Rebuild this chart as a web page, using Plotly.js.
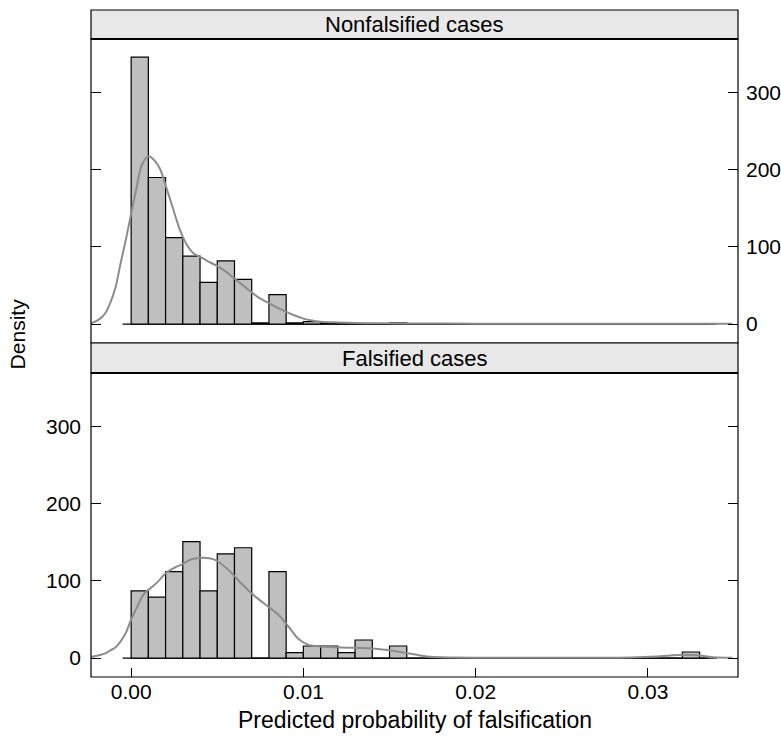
<!DOCTYPE html>
<html>
<head>
<meta charset="utf-8">
<script src="https://cdn.plot.ly/plotly-3.0.1.min.js"></script>
<style>html,body{margin:0;padding:0;background:#fff;}#chart{width:781px;height:740px;}</style>
</head>
<body>
<div id="chart"></div>
<script>
// ---- Data ----
const binWidth = 0.001;
const binStarts = [0.000,0.001,0.002,0.003,0.004,0.005,0.006,0.007,0.008,0.009,0.010,0.011,0.012,0.013,0.014,0.015,0.016,0.017,0.018,0.019,0.020,0.021,0.022,0.023,0.024,0.025,0.026,0.027,0.028,0.029,0.030,0.031,0.032,0.033];
const nonfalsifiedDensity = [346,190,112,88,54,82,58,1.5,38,1.5,3,0.8,0.7,0.7,0,1.5,0,0,0,0,0,0,0,0,0,0,0,0,0,0,0,0,0,0];
const falsifiedDensity    = [87,79,112,151,87,135,143,0,112,7,15.6,15.6,7,23.4,0,15.6,0,0,0,0,0,0,0,0,0,0,0,0,0,0,0,0,7.8,0];

const kdeNonX = [-0.00233,-0.0021,-0.0018,-0.0015,-0.0012,-0.0009,-0.0006,-0.0003,0.0000,0.0003,0.0006,0.0009,0.0011,0.0014,0.0017,0.0020,0.0024,0.0028,0.0032,0.0036,0.0040,0.0045,0.0050,0.0055,0.0060,0.0065,0.0070,0.0075,0.0080,0.0085,0.0090,0.0095,0.0100,0.0105,0.0110,0.0120,0.0130,0.0145,0.0165,0.0200,0.0250,0.0300,0.0349];
const kdeNonY = [1,3,7,14,28,48,80,110,143,175,205,216,217,211,200,180,152,124,104,92,87,81,75,68,59,50,41,33,27,21,16,11,7,4.5,3,2,1.3,1,0.7,0.5,0.4,0.3,0.3];

const kdeFalX = [-0.00233,-0.0018,-0.0015,-0.0012,-0.0009,-0.0006,-0.0003,0.0000,0.0003,0.0007,0.0012,0.0016,0.0020,0.0025,0.0030,0.0035,0.0042,0.0048,0.0053,0.0058,0.0063,0.0068,0.0073,0.0080,0.0086,0.0092,0.0097,0.0103,0.0110,0.0118,0.0126,0.0134,0.0142,0.0150,0.0158,0.0165,0.0172,0.0180,0.0200,0.0250,0.0290,0.0305,0.0312,0.0320,0.0329,0.0338,0.0349];
const kdeFalY = [1.3,4,6,10,14,22,33,50,64,82,92,100,110,117,122,128,130,128,121,111,99,88,78,66,55,39,25,17,15,14,13.4,13,12,10,7,4.5,2,1,0.5,0.5,0.8,2,3,4.3,3.5,1,0.3];

const panelTitles = ["Nonfalsified cases","Falsified cases"];
const xTickVals = [0,0.01,0.02,0.03];
const yTickVals = [0,100,200,300];
const xLabel = "Predicted probability of falsification";
const yLabel = "Density";
const baselineRange = [-0.0005, 0.0335];

// ---- Style ----
const FONT = "Liberation Sans, Arial, Helvetica, sans-serif";
const barFill = "#bfbfbf";
const kdeColor = "#8c8c8c";
const stripFill = "#e8e8e8";
const xRange = [-0.00233, 0.03523];
const yRange = [-24.6, 369.6];
const domBottom = [0, 0.45577];
const domTop = [0.50075, 0.95652];

const centers = binStarts.map(b => b + binWidth/2);

const traces = [
  {type:'bar', x:centers, y:falsifiedDensity, width:binWidth, xaxis:'x', yaxis:'y',
   marker:{color:barFill, line:{color:'#000', width:1.2}}, hoverinfo:'x+y', showlegend:false},
  {type:'scatter', mode:'lines', x:kdeFalX, y:kdeFalY, xaxis:'x', yaxis:'y',
   line:{color:kdeColor, width:2, shape:'spline', smoothing:0.8}, showlegend:false},
  {type:'bar', x:centers, y:nonfalsifiedDensity, width:binWidth, xaxis:'x2', yaxis:'y2',
   marker:{color:barFill, line:{color:'#000', width:1.2}}, hoverinfo:'x+y', showlegend:false},
  {type:'scatter', mode:'lines', x:kdeNonX, y:kdeNonY, xaxis:'x2', yaxis:'y2',
   line:{color:kdeColor, width:2, shape:'spline', smoothing:0.8}, showlegend:false},
  // invisible helpers so the right-hand axes render
  {type:'scatter', mode:'markers', x:[null], y:[null], xaxis:'x', yaxis:'y3', showlegend:false, hoverinfo:'skip'},
  {type:'scatter', mode:'markers', x:[null], y:[null], xaxis:'x2', yaxis:'y4', showlegend:false, hoverinfo:'skip'}
];

const tickFont = {family:FONT, size:21, color:'#000'};
const yBase = {range:yRange, tickvals:yTickVals, ticks:'inside', ticklen:10, tickwidth:1, tickcolor:'#000',
  showgrid:false, zeroline:false, showline:false, fixedrange:true, tickfont:tickFont};

const layout = {
  width:781, height:740,
  margin:{l:91, r:43, t:10, b:63, pad:0},
  paper_bgcolor:'#fff', plot_bgcolor:'#fff',
  font:{family:FONT, color:'#000'},
  showlegend:false,
  bargap:0,
  xaxis:{domain:[0,1], anchor:'y', range:xRange, tickvals:xTickVals, tickformat:'.2f',
    ticks:'inside', ticklen:9, tickwidth:1, tickcolor:'#000', showgrid:false, zeroline:false,
    showline:false, tickfont:tickFont, ticklabelstandoff:0},
  xaxis2:{domain:[0,1], anchor:'y2', matches:'x', range:xRange, showticklabels:false, ticks:'',
    showgrid:false, zeroline:false, showline:false},
  yaxis:Object.assign({}, yBase, {domain:domBottom, anchor:'x', side:'left', ticklabelstandoff:9}),
  yaxis3:Object.assign({}, yBase, {overlaying:'y', anchor:'x', side:'right', showticklabels:false}),
  yaxis2:Object.assign({}, yBase, {domain:domTop, anchor:'x2', side:'left', showticklabels:false}),
  yaxis4:Object.assign({}, yBase, {overlaying:'y2', anchor:'x2', side:'right', ticklabelstandoff:7}),
  shapes:[
    {type:'line', xref:'x', yref:'y', x0:baselineRange[0], x1:baselineRange[1], y0:0, y1:0, line:{color:'#000', width:1.2}, layer:'below'},
    {type:'line', xref:'x2', yref:'y2', x0:baselineRange[0], x1:baselineRange[1], y0:0, y1:0, line:{color:'#000', width:1.2}, layer:'below'},
    {type:'rect', xref:'paper', yref:'paper', x0:0, x1:1, y0:domBottom[0], y1:domBottom[1], line:{color:'#000', width:1.2}},
    {type:'rect', xref:'paper', yref:'paper', x0:0, x1:1, y0:domTop[0], y1:domTop[1], line:{color:'#000', width:1.2}},
    {type:'rect', xref:'paper', yref:'paper', x0:0, x1:1, y0:domBottom[1], y1:domTop[0], fillcolor:stripFill, line:{color:'#000', width:1.2}},
    {type:'rect', xref:'paper', yref:'paper', x0:0, x1:1, y0:domTop[1], y1:1, fillcolor:stripFill, line:{color:'#000', width:1.2}},
    {type:'line', xref:'paper', yref:'paper', x0:0, x1:1, y0:domBottom[1], y1:domBottom[1], line:{color:'#000', width:2}},
    {type:'line', xref:'paper', yref:'paper', x0:0, x1:1, y0:domTop[1], y1:domTop[1], line:{color:'#000', width:2}}
  ],
  annotations:[
    {xref:'paper', yref:'paper', x:0.5, y:(domTop[1]+1)/2, text:panelTitles[0], showarrow:false,
     font:{family:FONT, size:22, color:'#000'}, xanchor:'center', yanchor:'middle'},
    {xref:'paper', yref:'paper', x:0.5, y:(domBottom[1]+domTop[0])/2, text:panelTitles[1], showarrow:false,
     font:{family:FONT, size:22, color:'#000'}, xanchor:'center', yanchor:'middle'},
    {xref:'paper', yref:'paper', x:0.5, y:-0.0645, text:xLabel, showarrow:false,
     font:{family:FONT, size:23, color:'#000'}, xanchor:'center', yanchor:'middle'},
    {xref:'paper', yref:'paper', x:-0.113, y:0.515, text:yLabel, showarrow:false, textangle:-90,
     font:{family:FONT, size:21, color:'#000'}, xanchor:'center', yanchor:'middle'}
  ]
};

Plotly.newPlot('chart', traces, layout, {staticPlot:true, displayModeBar:false});
</script>
</body>
</html>
